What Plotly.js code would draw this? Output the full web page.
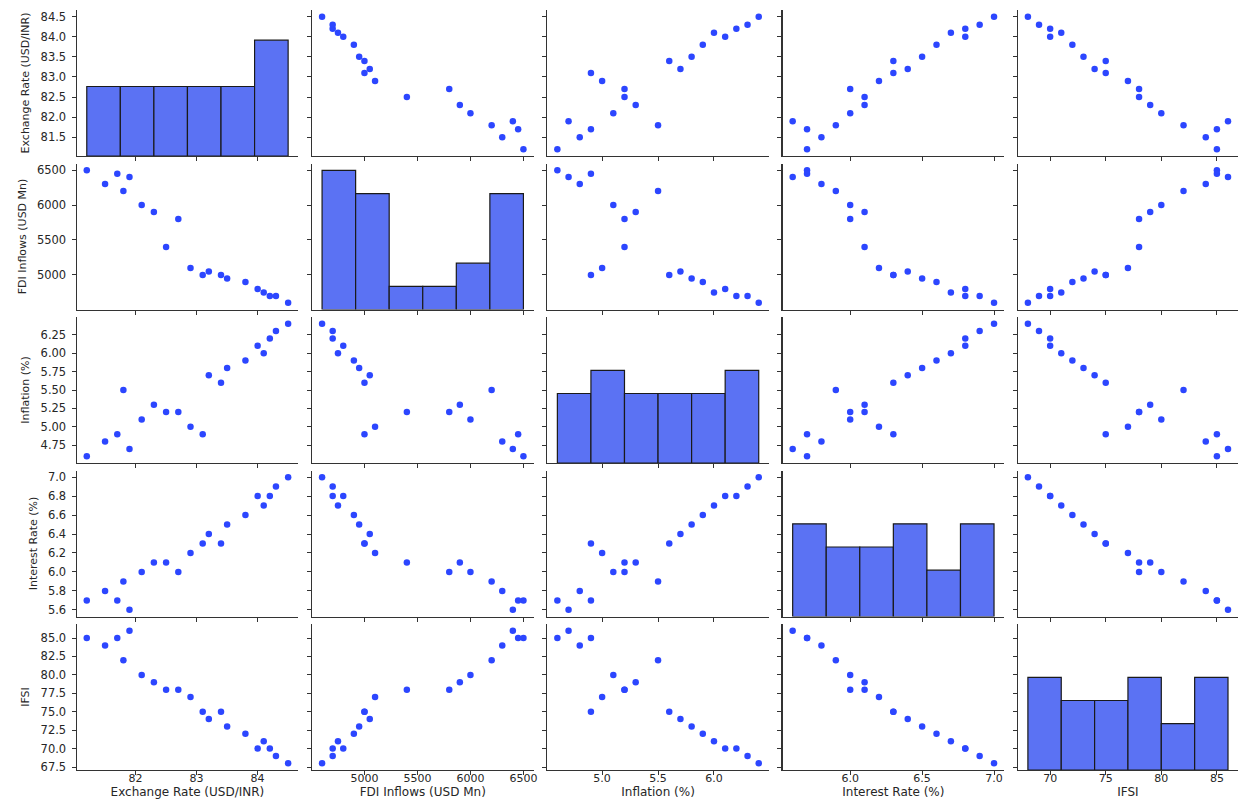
<!DOCTYPE html>
<html>
<head>
<meta charset="utf-8">
<script src="https://cdn.plot.ly/plotly-3.0.1.min.js"></script>
<style>
html,body{margin:0;padding:0;background:#fff;}
#chart{width:1238px;height:799px;}
</style>
</head>
<body>
<div id="chart"></div>
<script>
// ---- data ----
const exchangeRate = [81.2,81.5,81.7,81.8,81.9,82.1,82.3,82.5,82.7,82.9,83.1,83.2,83.4,83.5,83.8,84.0,84.1,84.2,84.3,84.5];
const fdiInflows   = [6500,6300,6450,6200,6400,6000,5900,5400,5800,5100,5000,5050,5000,4950,4900,4800,4750,4700,4700,4600];
const inflation    = [4.6,4.8,4.9,5.5,4.7,5.1,5.3,5.2,5.2,5.0,4.9,5.7,5.6,5.8,5.9,6.1,6.0,6.2,6.3,6.4];
const interestRate = [5.7,5.8,5.7,5.9,5.6,6.0,6.1,6.1,6.0,6.2,6.3,6.4,6.3,6.5,6.6,6.8,6.7,6.8,6.9,7.0];
const ifsi         = [85,84,85,82,86,80,79,78,78,77,75,74,75,73,72,70,71,70,69,68];

const varNames = ['Exchange Rate (USD/INR)','FDI Inflows (USD Mn)','Inflation (%)','Interest Rate (%)','IFSI'];

// tick labels
const erYTicks  = [81.5,82.0,82.5,83.0,83.5,84.0,84.5];
const erXTicks  = [82,83,84];
const fdiTicks  = [5000,5500,6000,6500];
const inflYTicks = [4.75,5.00,5.25,5.50,5.75,6.00,6.25];
const inflXTicks = [5.0,5.5,6.0];
const irYTicks  = [5.6,5.8,6.0,6.2,6.4,6.6,6.8,7.0];
const irXTicks  = [6.0,6.5,7.0];
const ifsiYTicks = [67.5,70.0,72.5,75.0,77.5,80.0,82.5,85.0];
const ifsiXTicks = [70,75,80,85];

const nBins = 6;

// ---- build ----
const series = [exchangeRate, fdiInflows, inflation, interestRate, ifsi];
const yTicks = [[erYTicks,1],[fdiTicks,0],[inflYTicks,2],[irYTicks,1],[ifsiYTicks,1]];
const xTicks = [[erXTicks,0],[fdiTicks,0],[inflXTicks,1],[irXTicks,1],[ifsiXTicks,0]];

const N = 5;
const W = 1238, H = 799;
const colLeft = 76.7, colStep = 235.3, colW = 221.5;
const rowTop = 10, rowStep = 153.5, rowH = 146;

const dotColor = '#2c46ff';
const barColor = '#5b72f3';
const spine = '#333333';
const font = 'DejaVu Sans, sans-serif';

function rng(a){
  const lo = Math.min(...a), hi = Math.max(...a), p = (hi-lo)*0.05;
  return [lo-p, hi+p];
}

const traces = [];
const layout = {
  width: W, height: H,
  margin: {l:0, r:0, t:0, b:0},
  paper_bgcolor: '#fff', plot_bgcolor: '#fff',
  showlegend: false,
  font: {family: font, size: 12, color: '#262626'}
};

// histogram counts
const hists = series.map(d => {
  const lo = Math.min(...d), hi = Math.max(...d), w = (hi-lo)/nBins;
  const counts = new Array(nBins).fill(0);
  d.forEach(v => {
    let k = Math.floor((v-lo)/w + 1e-9);
    if (k >= nBins) k = nBins-1;
    counts[k]++;
  });
  const centers = counts.map((_,i)=> lo + w*(i+0.5));
  return {counts, centers, w};
});
const maxCount = Math.max(...hists.map(h=>Math.max(...h.counts)));

for (let r=0; r<N; r++){
  for (let c=0; c<N; c++){
    const k = r*N + c + 1;
    const xa = 'xaxis' + (k===1?'':k), ya = 'yaxis' + (k===1?'':k);
    const xr = 'x' + (k===1?'':k), yr = 'y' + (k===1?'':k);
    let x0 = (colLeft + colStep*c)/W, x1 = Math.min(1, x0 + colW/W);
    const top = rowTop + rowStep*r, bot = top + rowH;
    const y1 = 1 - top/H, y0 = 1 - bot/H;
    const xt = xTicks[c], yt = yTicks[r];
    layout[xa] = {
      domain:[x0,x1], anchor: yr, range: rng(series[c]),
      showline:true, linecolor:spine, linewidth:1.2, mirror:false,
      showgrid:false, zeroline:false,
      ticks:'outside', ticklen:4, tickwidth:1, tickcolor:spine,
      tickmode:'array', tickvals: xt[0], ticktext: xt[0].map(v=>v.toFixed(xt[1])),
      showticklabels: r===N-1, ticklabelstandoff: -6,
      tickfont:{size:11, family:font, color:'#262626'},
      title: r===N-1 ? {text: varNames[c], font:{size:12, family:font, color:'#262626'}} : {text:''}
    };
    layout[ya] = {
      domain:[y0,y1], anchor: xr, range: rng(series[r]),
      showline:true, linecolor:spine, linewidth:1.2, mirror:false,
      showgrid:false, zeroline:false,
      ticks:'outside', ticklen:4, tickwidth:1, tickcolor:spine,
      tickmode:'array', tickvals: yt[0], ticktext: yt[0].map(v=>v.toFixed(yt[1])),
      showticklabels: c===0, ticklabelstandoff: 3,
      tickfont:{size:11.5, family:font, color:'#262626'},
      title: c===0 ? {text: varNames[r], font:{size:11, family:font, color:'#262626'}, standoff:8} : {text:''}
    };
    if (r !== c){
      traces.push({
        type:'scatter', mode:'markers', x: series[c], y: series[r],
        xaxis: xr, yaxis: yr,
        marker:{color:dotColor, size:6.5, line:{width:0}},
        hoverinfo:'skip', cliponaxis:false
      });
    } else {
      // invisible carrier trace so the diagonal cell's own axes are built
      traces.push({
        type:'scatter', mode:'markers', x: series[c], y: series[r],
        xaxis: xr, yaxis: yr,
        marker:{color:dotColor, size:1, opacity:0},
        hoverinfo:'skip'
      });
      const hk = 30 + r + 1;
      const hya = 'yaxis' + hk, hyr = 'y' + hk;
      layout[hya] = {overlaying: yr, anchor: xr, range:[0, maxCount*1.05],
        visible:false, showgrid:false, zeroline:false, showline:false, showticklabels:false, ticks:''};
      const h = hists[r];
      traces.push({
        type:'bar', x: h.centers, y: h.counts, width: h.w,
        xaxis: xr, yaxis: hyr,
        marker:{color:barColor, line:{color:'#1a1a1a', width:1.2}},
        hoverinfo:'skip'
      });
    }
  }
}

Plotly.newPlot('chart', traces, layout, {staticPlot:true, displayModeBar:false});
</script>
</body>
</html>
